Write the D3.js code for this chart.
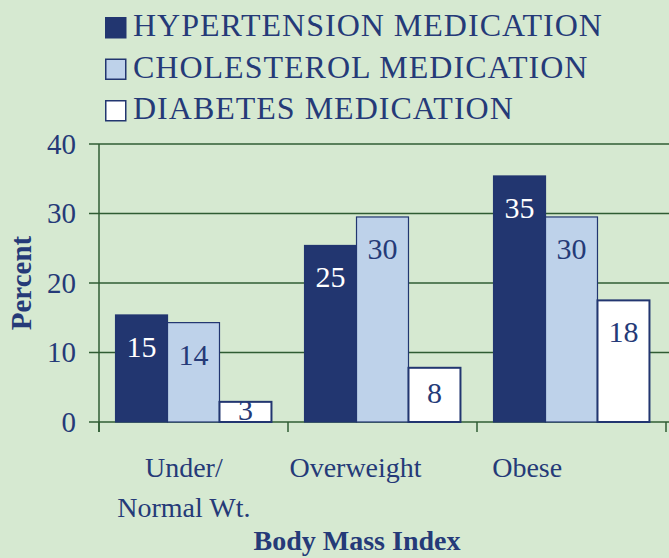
<!DOCTYPE html>
<html>
<head>
<meta charset="utf-8">
<script src="https://cdn.jsdelivr.net/npm/d3@7"></script>
<style>
  body { margin: 0; background: #d6e9d1; }
  svg { display: block; }
</style>
</head>
<body>
<script>
// data
const categories = ["Under/|Normal Wt.", "Overweight", "Obese"];
const seriesNames = ["HYPERTENSION MEDICATION", "CHOLESTEROL MEDICATION", "DIABETES MEDICATION"];
const hypertension = [15.4, 25.4, 35.4];
const cholesterol = [14.3, 29.5, 29.5];
const diabetes = [2.9, 7.8, 17.5];
const yTicks = [0, 10, 20, 30, 40];

const seriesValues = [hypertension, cholesterol, diabetes];
const fills = ["#223670", "#bed2ea", "#ffffff"];
const labelColors = ["#ffffff", "#253a78", "#253a78"];
const navy = "#223670";
const grid = "#2f5c33";
const serif = "'Liberation Serif', 'Times New Roman', Times, 'DejaVu Serif', serif";

const width = 669, height = 558;
const margin = {top: 144, right: 3, bottom: 136, left: 99};

const svg = d3.select("body").append("svg")
    .attr("width", width)
    .attr("height", height)
    .attr("font-family", serif)
    .style("font-family", serif)
    .attr("fill", "#253a78");

svg.append("rect").attr("width", width).attr("height", height).attr("fill", "#d6e9d1");

// scales
const x = d3.scaleBand()
    .domain(categories)
    .range([margin.left, width - margin.right])
    .paddingInner(0.175)
    .paddingOuter(0.0875);

const xSub = d3.scaleBand()
    .domain(d3.range(seriesNames.length))
    .range([0, x.bandwidth()]);

const y = d3.scaleLinear()
    .domain([0, 40])
    .range([height - margin.bottom, margin.top]);

// gridlines + y ticks
svg.append("g")
  .selectAll("line")
  .data(yTicks)
  .join("line")
    .attr("x1", margin.left - 10)
    .attr("x2", width)
    .attr("y1", d => y(d))
    .attr("y2", d => y(d))
    .attr("stroke", grid)
    .attr("stroke-width", 1.5);

svg.append("g")
  .selectAll("text")
  .data(yTicks)
  .join("text")
    .attr("x", margin.left - 23)
    .attr("y", d => y(d))
    .attr("dy", "0.34em")
    .attr("text-anchor", "end")
    .attr("font-size", 29)
    .text(d => d);

// y axis line
svg.append("line")
    .attr("x1", margin.left).attr("x2", margin.left)
    .attr("y1", y(40)).attr("y2", y(0) + 10)
    .attr("stroke", grid).attr("stroke-width", 1.5);

// x ticks at category boundaries
const step = x.step();
const x0 = x.range()[0];
svg.append("g")
  .selectAll("line")
  .data(d3.range(categories.length + 1))
  .join("line")
    .attr("x1", i => x0 + i * step)
    .attr("x2", i => x0 + i * step)
    .attr("y1", y(0))
    .attr("y2", y(0) + 10)
    .attr("stroke", grid)
    .attr("stroke-width", 1.5);

// bars
const groups = svg.append("g")
  .selectAll("g")
  .data(categories)
  .join("g")
    .attr("transform", d => `translate(${x(d)},0)`);

const cells = groups.selectAll("g")
  .data((c, ci) => seriesValues.map((vals, si) => ({si, v: vals[ci]})))
  .join("g");

cells.append("rect")
    .attr("x", d => xSub(d.si))
    .attr("y", d => y(d.v))
    .attr("width", xSub.bandwidth())
    .attr("height", d => y(0) - y(d.v))
    .attr("fill", d => fills[d.si])
    .attr("stroke", navy)
    .attr("stroke-width", d => d.si === 2 ? 2 : 1.2);

cells.append("text")
    .attr("x", d => xSub(d.si) + xSub.bandwidth() / 2)
    .attr("y", d => {
      const h = y(0) - y(d.v);
      return h > 70 ? y(d.v) + 42 : y(d.v) + h / 2 + 8;
    })
    .attr("text-anchor", "middle")
    .attr("font-size", 30)
    .attr("fill", d => labelColors[d.si])
    .text(d => Math.round(d.v));

// category labels (set slightly left of the bar groups, as in the original)
const xLab = d3.scaleBand()
    .domain(categories)
    .range([98, 613]);

const catLab = svg.append("g")
  .selectAll("text")
  .data(categories)
  .join("text")
    .attr("x", d => xLab(d) + xLab.bandwidth() / 2)
    .attr("y", 477)
    .attr("text-anchor", "middle")
    .attr("font-size", 28);

catLab.selectAll("tspan")
  .data(d => d.split("|"))
  .join("tspan")
    .attr("x", function() { return this.parentNode.getAttribute("x"); })
    .attr("dy", (d, i) => i === 0 ? 0 : 40)
    .text(d => d);

// axis titles
svg.append("text")
    .attr("x", 357)
    .attr("y", 550)
    .attr("text-anchor", "middle")
    .attr("font-size", 28)
    .attr("font-weight", "bold")
    .text("Body Mass Index");

svg.append("text")
    .attr("transform", `translate(31,${(y(0) + y(40)) / 2}) rotate(-90)`)
    .attr("text-anchor", "middle")
    .attr("font-size", 29)
    .attr("font-weight", "bold")
    .text("Percent");

// legend
const legend = svg.append("g")
  .selectAll("g")
  .data(seriesNames)
  .join("g")
    .attr("transform", (d, i) => `translate(105,${17 + i * 41.5})`);

legend.append("rect")
    .attr("x", 0.75).attr("y", 0.75)
    .attr("width", 20).attr("height", 20)
    .attr("fill", (d, i) => fills[i])
    .attr("stroke", navy)
    .attr("stroke-width", 1.5);

legend.append("text")
    .attr("x", 28)
    .attr("y", 19)
    .attr("font-size", 32)
    .attr("letter-spacing", 1)
    .text(d => d);
</script>
</body>
</html>
